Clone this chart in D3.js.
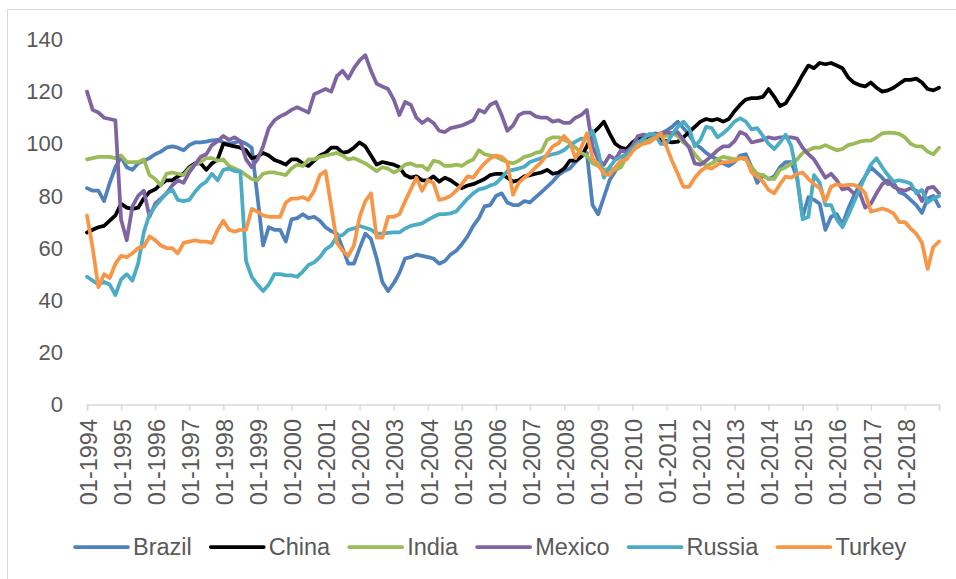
<!DOCTYPE html>
<html>
<head>
<meta charset="utf-8">
<script src="https://cdn.jsdelivr.net/npm/d3@7/dist/d3.min.js"></script>
<style>
    body { margin: 0; background: #fff; }
    svg text { font-family: "Liberation Sans", Arial, Helvetica, sans-serif; fill: #595959; }
</style>
</head>
<body>
<div id="chart"></div>
<script>
// Muestras cada dos meses: índice de mes contado desde 01-1994 (0 = 01-1994, 300 = 01-2019)
const months = d3.range(0, 301, 2);

// Etiquetas del eje X (una por año)
const tickLabels = ["01-1994", "01-1995", "01-1996", "01-1997", "01-1998", "01-1999", "01-2000",
    "01-2001", "01-2002", "01-2003", "01-2004", "01-2005", "01-2006", "01-2007", "01-2008",
    "01-2009", "01-2010", "01-2011", "01-2012", "01-2013", "01-2014", "01-2015", "01-2016",
    "01-2017", "01-2018"];

const yTicks = [0, 20, 40, 60, 80, 100, 120, 140];

// Series (valor leído cada dos meses)
const brazil = [
    83, 82, 82, 78, 85, 91, 95, 91, 90, 92.5, 93.5, 94.5,
    96, 97, 98.5, 99, 98.5, 97.5, 99.5, 100.5, 100.5, 100.8, 101.3, 101.5,
    100.5, 100, 100.5, 101, 100, 98.5, 80, 61, 68, 67, 67, 62.5,
    71, 71.5, 73, 71.5, 72, 70.5, 68, 66.5, 65.5, 60, 54, 54,
    60, 65.5, 63.5, 56, 47, 43.5, 46.5, 50.5, 56, 56.5, 57.5, 57,
    56.5, 56, 54, 55, 57.5, 59, 61.5, 64.5, 68.5, 71.5, 76, 76.5,
    80, 81, 77.5, 76.5, 76.5, 78, 77.5, 79.5, 81.5, 83.5, 85.5, 88,
    89.5, 90.5, 93, 95, 96.5, 76.5, 73, 79.5, 86, 89.5, 92.5, 96,
    98.5, 100, 101.5, 102.5, 103.5, 104, 105, 106.5, 108.5, 106, 103.5, 100,
    98.5, 96.5, 95, 94, 92.5, 91.5, 93, 95.5, 96, 91, 85, 88,
    86.5, 87.5, 91, 93, 93, 87, 72, 79.5, 78.5, 77, 67, 72,
    73, 69, 75, 80, 84, 87.5, 91, 89, 87, 84.5, 85, 81.5,
    80.5, 78.5, 76.5, 73.5, 79, 80, 76
];

const china = [
    66, 67, 68, 68.5, 70.5, 72.5, 77, 75.5, 75, 75.5, 79, 81.5,
    82.5, 84.5, 86, 86, 87.5, 88.5, 91, 92.5, 92.5, 90, 92.5, 94,
    100, 99.5, 99, 98.5, 97.5, 94.5, 95, 96.5, 95.5, 93.8, 93, 92,
    94, 94, 92.5, 91.5, 93.5, 95.5, 96.5, 98.5, 98.5, 96.5, 97, 98.5,
    100.5, 99, 95.5, 92, 93, 92.5, 92, 91, 88, 87, 87.5, 86,
    86, 87.5, 85.5, 87, 86, 84.5, 83, 84, 84.5, 85.5, 86.5, 88,
    88.5, 88.5, 87, 85.5, 86, 87.5, 88, 88.5, 89, 90, 88.5, 89,
    90.5, 93.5, 93.5, 95, 99, 104, 106, 108.5, 104, 100, 98.5, 98,
    100.5, 102, 102.5, 102.5, 102.5, 101.5, 101, 100.5, 100.8, 102.5, 104.5, 106.5,
    108.5, 109.5, 109, 109.5, 108.5, 109.5, 112.5, 115, 117, 117.5, 117.5, 118,
    121, 118, 114.5, 115.5, 119, 122.5, 126.5, 130, 129, 131, 130.5, 131,
    130, 129, 125.5, 123.5, 122.5, 122, 123.5, 121.5, 120, 120.5, 121.5, 123,
    124.5, 124.5, 125, 123.5, 121, 120.5, 121.5
];

const india = [
    94, 94.5, 95, 95, 95, 94.5, 95.5, 93, 93, 93, 94, 88,
    86.5, 84, 88.5, 89, 88.5, 88, 90.5, 92, 93, 94.5, 94.5, 93.5,
    94, 91.5, 90.5, 89.5, 88, 86.5, 86, 88.5, 89, 89, 88.5, 88,
    90.5, 92, 91.5, 94, 94, 95, 95.5, 96, 96.5, 95.5, 94, 94.5,
    93.5, 92.5, 91, 89.5, 91, 90.5, 89, 90, 92, 92.5, 91.5, 91.5,
    90, 93.5, 93, 91.5, 91.5, 92, 91.5, 93, 94, 97.5, 96, 95.5,
    95, 94, 93, 92.5, 93.5, 95, 95.5, 96.5, 97, 101.5, 102.5, 102.5,
    101.5, 100.5, 98.5, 96.5, 95.5, 92.5, 91.5, 90, 90.5, 90, 91, 95,
    97.5, 98.8, 100.5, 101.5, 103, 103.4, 103, 104, 103, 100.5, 99, 96,
    93.5, 91.5, 92.5, 94, 95, 94.5, 94, 94.5, 94, 91, 88.5, 88,
    86.5, 86.5, 90, 91, 92.5, 94, 96.5, 97.5, 98.5, 98.5, 99.5, 98.5,
    97.5, 98, 99.5, 100, 100.8, 101.2, 101.2, 102.5, 104, 104.3, 104.2, 103.8,
    102.5, 100, 99, 99, 97, 96, 98.5
];

const mexico = [
    120, 113, 112, 110, 109.5, 109, 71, 63, 76, 80, 82, 72,
    77, 79, 81, 84, 86, 85, 89, 92, 95, 96, 99.5, 101,
    103, 101.5, 102.5, 101, 94, 91, 94, 99, 106, 109, 110.5, 111.5,
    113, 114, 113, 112, 119, 120, 121, 120, 126, 128, 125, 129,
    132, 134, 128, 123, 122, 121, 117, 111, 116, 115, 110, 108,
    109.5, 108, 105, 104.5, 106, 106.5, 107, 108, 109, 113, 112, 115,
    116, 111, 105, 107, 111, 112, 112, 110.5, 110, 110, 108.5, 109,
    108, 108, 110, 111, 113, 99, 94, 92, 95.5, 94, 97.5, 97,
    99, 103, 103.5, 103, 104, 103.5, 104.5, 104, 104.5, 101.5, 98.5, 92.5,
    92, 93.5, 95.5, 97.5, 99, 99, 101, 104.5, 103.5, 100.5, 101, 101.5,
    102.5, 102, 102.5, 102.5, 102.5, 102, 98.5, 96, 94, 90.5, 87, 88.5,
    86, 82.5, 83, 81, 81.5, 75.5, 77, 81, 84.5, 86, 83.5, 82.5,
    82, 83, 82, 78, 83, 83.5, 81
];

const russia = [
    49, 47.5, 46, 47, 46, 42, 48, 50, 47.5, 54, 66, 73,
    76, 78.5, 81, 82.5, 78.5, 78, 78.5, 81.5, 84, 85.5, 88.5, 86,
    90, 90.5, 89.5, 89.3, 55, 49, 46, 43.5, 46, 50, 50, 49.5,
    49.5, 49, 51, 53.5, 54.5, 56.5, 59.5, 61, 64.5, 65, 67, 67.5,
    68.5, 67.8, 67, 65.5, 65.5, 65.8, 66, 66, 67.5, 68.5, 69, 69.5,
    70.8, 72, 73, 73, 73.3, 74, 76.5, 79, 81, 82.5, 83, 84,
    84.8, 87, 89.5, 90, 90.5, 91.2, 93, 93.8, 94.5, 95.3, 96, 96.5,
    97.6, 99.5, 100.8, 102, 102, 105, 97, 87, 91, 93.8, 95, 96,
    98.3, 100.5, 102, 103.8, 103.5, 100, 100, 103.5, 106.5, 108.5, 106, 99,
    101.5, 106.5, 106, 102.5, 104, 106, 108.5, 109.8, 108.5, 105.5, 106, 103,
    100, 98, 100.5, 103.5, 99, 88, 71, 72, 88, 85, 76.5, 76.5,
    71, 68, 72.5, 77.5, 82.5, 87.5, 92, 94.5, 91, 88, 85.5, 86,
    85.5, 84.8, 81, 82.3, 77.5, 79, 80
];

const turkey = [
    72.5, 60, 45, 50, 48.5, 54, 57, 56.5, 58, 60, 60.5, 64.5,
    63, 61, 60, 60, 58, 62, 62.5, 63, 62.5, 62.5, 62, 67,
    70.5, 67, 66.3, 67, 67, 75, 74, 72.5, 72, 72, 72, 77.5,
    79, 79, 79.5, 78.5, 82, 88, 89.5, 76, 62, 59, 57, 61,
    72, 78, 81, 64, 64, 72, 72, 73, 78, 82.5, 87, 82,
    86, 85, 78.5, 79, 80, 82, 84.5, 87.5, 87, 90, 92.5, 94.4,
    95.5, 95, 93, 80.5, 85, 87, 88.7, 91, 93, 96, 99, 100.2,
    103, 100.5, 94.5, 98.5, 104, 94.5, 92, 88.5, 88, 91, 93.5, 94,
    97, 99.5, 100, 100.5, 102, 104, 99, 93.5, 88.5, 83.5, 83.5, 87,
    89.5, 91, 90.5, 92, 93, 93, 93.5, 94.5, 94.5, 89, 87.5, 85.5,
    82.3, 81, 84.5, 87.4, 87, 88.5, 89, 86.5, 84.5, 83, 78, 83.5,
    84.5, 84, 84.2, 84.2, 83.3, 81, 74, 74.5, 75.2, 74.5, 73.3, 70,
    70, 67.5, 65.5, 62, 52, 60.5, 62.5
];

const seriesNames = ["Brazil", "China", "India", "Mexico", "Russia", "Turkey"];
const seriesValues = [brazil, china, india, mexico, russia, turkey];
const seriesColors = ["#4f81bd", "#000000", "#9bbb59", "#8064a2", "#4bacc6", "#f79646"];

const width = 956;
const height = 579;

// Dimensiones del área de trazado
const plot = { left: 87, right: 939, top: 39.5, bottom: 404.5 };

const svg = d3.select("#chart").append("svg")
    .attr("width", width)
    .attr("height", height);

// Borde exterior del gráfico
svg.append("rect")
    .attr("x", 7.5)
    .attr("y", 9.5)
    .attr("width", 1000)
    .attr("height", 1000)
    .attr("fill", "none")
    .attr("stroke", "#d9d9d9")
    .attr("stroke-width", 1);

// Escalas
const x = d3.scaleLinear()
    .domain([0, 300])
    .range([plot.left, plot.right]);

const y = d3.scaleLinear()
    .domain([0, 140])
    .range([plot.bottom, plot.top]);

// Etiquetas del eje Y (sin línea de eje ni cuadrícula)
svg.append("g")
    .selectAll("text")
    .data(yTicks)
    .join("text")
    .attr("x", 63)
    .attr("y", d => y(d))
    .attr("dy", "0.35em")
    .attr("text-anchor", "end")
    .attr("font-size", "22px")
    .text(d => d);

// Eje X: una marca cada 12 meses más la marca final
const xAxis = d3.axisBottom(x)
    .tickValues(d3.range(0, 301, 12))
    .tickSize(6)
    .tickFormat("");

const gx = svg.append("g")
    .attr("transform", `translate(0, ${plot.bottom})`)
    .call(xAxis);

gx.select(".domain")
    .attr("stroke", "#d9d9d9")
    .attr("stroke-width", 1.5);
gx.selectAll(".tick line")
    .attr("stroke", "#d9d9d9")
    .attr("stroke-width", 1.5);

// Etiquetas verticales del eje X
svg.append("g")
    .selectAll("text")
    .data(tickLabels)
    .join("text")
    .attr("transform", (d, i) => `translate(${x(i * 12) + 1.5}, 419) rotate(-90)`)
    .attr("dy", "0.35em")
    .attr("text-anchor", "end")
    .attr("font-size", "23.5px")
    .text(d => d);

// Líneas de las series
const line = d3.line()
    .x((d, i) => x(months[i]))
    .y(d => y(d));

svg.append("g")
    .selectAll("path")
    .data(seriesValues)
    .join("path")
    .attr("d", d => line(d))
    .attr("fill", "none")
    .attr("stroke", (d, i) => seriesColors[i])
    .attr("stroke-width", 3.75)
    .attr("stroke-linejoin", "round")
    .attr("stroke-linecap", "round");

// Leyenda
const legendY = 547;
const lineLen = 53;
const textGap = 5;
const itemGap = 19;

const legend = svg.append("g");
const items = legend.selectAll("g")
    .data(seriesNames)
    .join("g");

items.append("line")
    .attr("x1", 0)
    .attr("x2", lineLen)
    .attr("y1", legendY)
    .attr("y2", legendY)
    .attr("stroke", (d, i) => seriesColors[i])
    .attr("stroke-width", 3.75)
    .attr("stroke-linecap", "round");

items.append("text")
    .attr("x", lineLen + textGap)
    .attr("y", legendY)
    .attr("dy", "0.35em")
    .attr("font-size", "23.5px")
    .text(d => d);

// Posicionar elementos de la leyenda según el ancho del texto
let widths = [];
items.select("text").each(function() { widths.push(this.getComputedTextLength()); });
let cursor = 75;
items.attr("transform", (d, i) => {
    const pos = cursor;
    cursor += lineLen + textGap + widths[i] + itemGap;
    return `translate(${pos}, 0)`;
});
</script>
</body>
</html>
